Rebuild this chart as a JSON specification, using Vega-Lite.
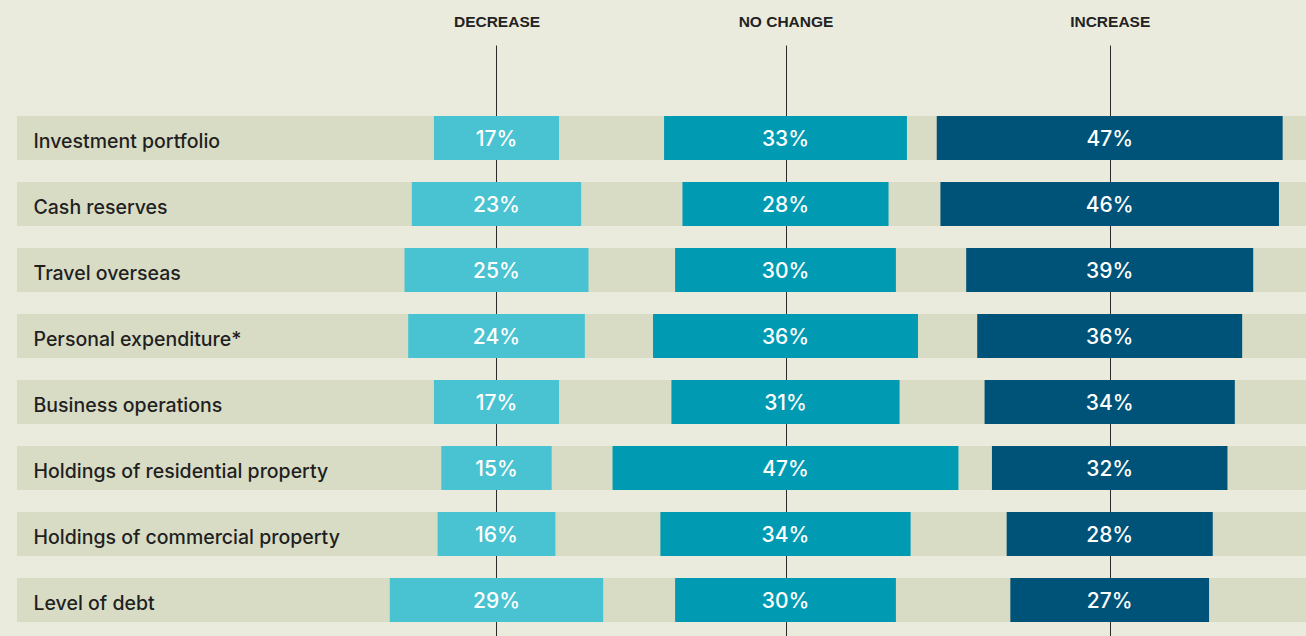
{
  "$schema": "https://vega.github.io/schema/vega-lite/v6.json",
  "width": 1289,
  "height": 591,
  "autosize": {"type": "none"},
  "padding": {"left": 17, "top": 45, "right": 0, "bottom": 0},
  "background": "#ebebdd",
  "config": {"view": {"stroke": null}},
  "data": {
    "values": [
      {"item": "Investment portfolio", "dir": "Decrease", "value": 0.17},
      {"item": "Investment portfolio", "dir": "No change", "value": 0.33},
      {"item": "Investment portfolio", "dir": "Increase", "value": 0.47},
      {"item": "Cash reserves", "dir": "Decrease", "value": 0.23},
      {"item": "Cash reserves", "dir": "No change", "value": 0.28},
      {"item": "Cash reserves", "dir": "Increase", "value": 0.46},
      {"item": "Travel overseas", "dir": "Decrease", "value": 0.25},
      {"item": "Travel overseas", "dir": "No change", "value": 0.30},
      {"item": "Travel overseas", "dir": "Increase", "value": 0.39},
      {"item": "Personal expenditure*", "dir": "Decrease", "value": 0.24},
      {"item": "Personal expenditure*", "dir": "No change", "value": 0.36},
      {"item": "Personal expenditure*", "dir": "Increase", "value": 0.36},
      {"item": "Business operations", "dir": "Decrease", "value": 0.17},
      {"item": "Business operations", "dir": "No change", "value": 0.31},
      {"item": "Business operations", "dir": "Increase", "value": 0.34},
      {"item": "Holdings of residential property", "dir": "Decrease", "value": 0.15},
      {"item": "Holdings of residential property", "dir": "No change", "value": 0.47},
      {"item": "Holdings of residential property", "dir": "Increase", "value": 0.32},
      {"item": "Holdings of commercial property", "dir": "Decrease", "value": 0.16},
      {"item": "Holdings of commercial property", "dir": "No change", "value": 0.34},
      {"item": "Holdings of commercial property", "dir": "Increase", "value": 0.28},
      {"item": "Level of debt", "dir": "Decrease", "value": 0.29},
      {"item": "Level of debt", "dir": "No change", "value": 0.30},
      {"item": "Level of debt", "dir": "Increase", "value": 0.27}
    ]
  },
  "encoding": {
    "y": {
      "field": "item",
      "type": "nominal",
      "sort": null,
      "scale": {"paddingInner": 0.33333, "paddingOuter": 0.64394, "align": 0.8353, "round": false},
      "axis": {
        "orient": "left",
        "title": null,
        "domain": false,
        "ticks": false,
        "tickSize": 0,
        "labelAlign": "left",
        "labelPadding": -16,
        "labelOffset": 4,
        "labelFont": "Inter",
        "labelFontSize": 19.5,
        "labelFontWeight": 500,
        "labelColor": "#1f1f1f",
        "labelLimit": 500,
        "zindex": 1
      }
    }
  },
  "layer": [
    {
      "transform": [{"filter": "datum.dir === 'Decrease'"}],
      "mark": {"type": "rect", "color": "#d9dcc5"}
    },
    {
      "transform": [{"filter": "datum.dir === 'Decrease'"}],
      "layer": [
        {
          "mark": {"type": "bar", "color": "#49c3d1"},
          "encoding": {
            "x": {
              "field": "value", "type": "quantitative", "stack": "center",
              "scale": {"domain": [-0.50649, 1.24486], "zero": false, "nice": false},
              "axis": {"orient": "top", "values": [0.145], "grid": true, "gridColor": "#2b2b2b", "gridWidth": 1, "gridOpacity": 1, "domain": false, "ticks": false, "labelExpr": "'DECREASE'", "labelFont": "Liberation Sans", "labelFontSize": 15.5, "labelFontWeight": "bold", "labelColor": "#222222", "labelPadding": 16, "labelFlush": false, "labelOverlap": false, "title": null, "zindex": 0}
            }
          }
        },
        {
          "mark": {"type": "text", "color": "#ffffff", "font": "Inter", "fontSize": 21, "fontWeight": 500, "align": "center", "baseline": "middle", "dy": 1.5},
          "encoding": {
            "x": {"datum": 0.145, "type": "quantitative",
              "axis": {"orient": "top", "values": [0.145], "grid": true, "gridColor": "#2b2b2b", "gridWidth": 1, "gridOpacity": 1, "domain": false, "ticks": false, "labelExpr": "'DECREASE'", "labelFont": "Liberation Sans", "labelFontSize": 15.5, "labelFontWeight": "bold", "labelColor": "#222222", "labelPadding": 16, "labelFlush": false, "labelOverlap": false, "title": null, "zindex": 0}},
            "text": {"field": "value", "type": "quantitative", "format": ".0%"}
          }
        }
      ]
    },
    {
      "transform": [{"filter": "datum.dir === 'No change'"}],
      "layer": [
        {
          "mark": {"type": "bar", "color": "#009bb3"},
          "encoding": {
            "x": {
              "field": "value", "type": "quantitative", "stack": "center",
              "scale": {"domain": [-0.80916, 0.9422], "zero": false, "nice": false},
              "axis": {"orient": "top", "values": [0.235], "grid": true, "gridColor": "#2b2b2b", "gridWidth": 1, "gridOpacity": 1, "domain": false, "ticks": false, "labelExpr": "'NO CHANGE'", "labelFont": "Liberation Sans", "labelFontSize": 15.5, "labelFontWeight": "bold", "labelColor": "#222222", "labelPadding": 16, "labelFlush": false, "labelOverlap": false, "title": null, "zindex": 0}
            }
          }
        },
        {
          "mark": {"type": "text", "color": "#ffffff", "font": "Inter", "fontSize": 21, "fontWeight": 500, "align": "center", "baseline": "middle", "dy": 1.5},
          "encoding": {
            "x": {"datum": 0.235, "type": "quantitative",
              "axis": {"orient": "top", "values": [0.235], "grid": true, "gridColor": "#2b2b2b", "gridWidth": 1, "gridOpacity": 1, "domain": false, "ticks": false, "labelExpr": "'NO CHANGE'", "labelFont": "Liberation Sans", "labelFontSize": 15.5, "labelFontWeight": "bold", "labelColor": "#222222", "labelPadding": 16, "labelFlush": false, "labelOverlap": false, "title": null, "zindex": 0}},
            "text": {"field": "value", "type": "quantitative", "format": ".0%"}
          }
        }
      ]
    },
    {
      "transform": [{"filter": "datum.dir === 'Increase'"}],
      "layer": [
        {
          "mark": {"type": "bar", "color": "#005378"},
          "encoding": {
            "x": {
              "field": "value", "type": "quantitative", "stack": "center",
              "scale": {"domain": [-1.24965, 0.50171], "zero": false, "nice": false},
              "axis": {"orient": "top", "values": [0.235], "grid": true, "gridColor": "#2b2b2b", "gridWidth": 1, "gridOpacity": 1, "domain": false, "ticks": false, "labelExpr": "'INCREASE'", "labelFont": "Liberation Sans", "labelFontSize": 15.5, "labelFontWeight": "bold", "labelColor": "#222222", "labelPadding": 16, "labelFlush": false, "labelOverlap": false, "title": null, "zindex": 0}
            }
          }
        },
        {
          "mark": {"type": "text", "color": "#ffffff", "font": "Inter", "fontSize": 21, "fontWeight": 500, "align": "center", "baseline": "middle", "dy": 1.5},
          "encoding": {
            "x": {"datum": 0.235, "type": "quantitative",
              "axis": {"orient": "top", "values": [0.235], "grid": true, "gridColor": "#2b2b2b", "gridWidth": 1, "gridOpacity": 1, "domain": false, "ticks": false, "labelExpr": "'INCREASE'", "labelFont": "Liberation Sans", "labelFontSize": 15.5, "labelFontWeight": "bold", "labelColor": "#222222", "labelPadding": 16, "labelFlush": false, "labelOverlap": false, "title": null, "zindex": 0}},
            "text": {"field": "value", "type": "quantitative", "format": ".0%"}
          }
        }
      ]
    }
  ],
  "resolve": {"scale": {"x": "independent"}}
}
